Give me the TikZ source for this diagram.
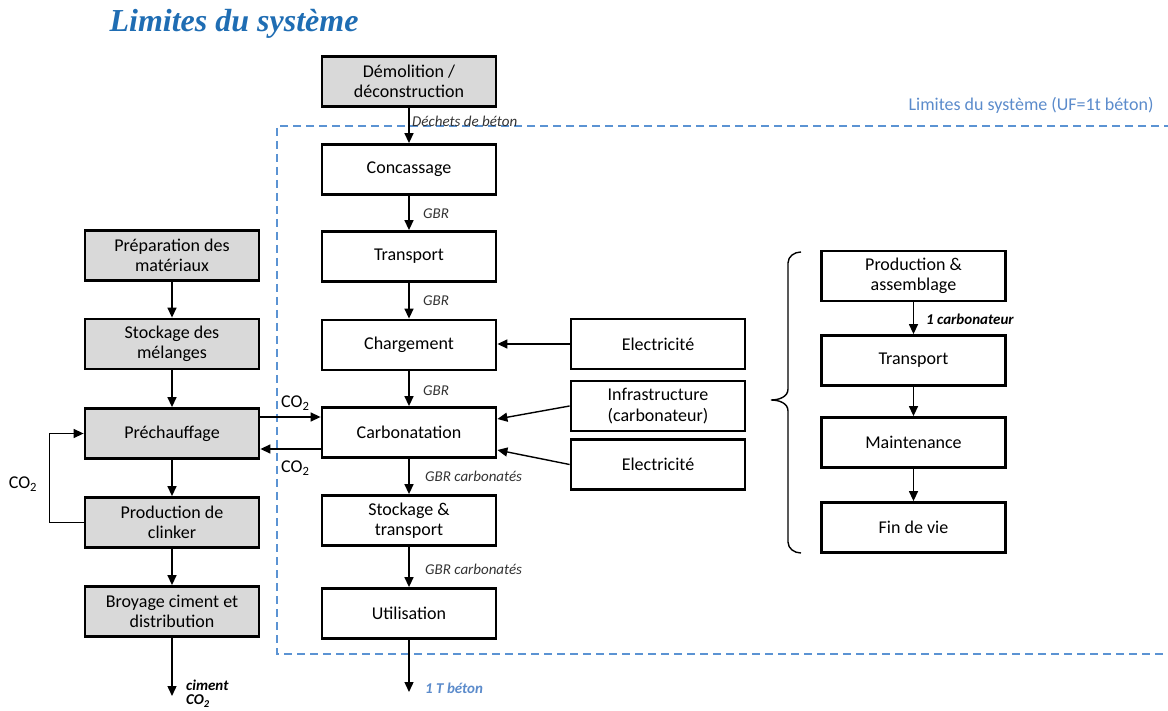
\documentclass[tikz,border=0pt]{standalone}
\usepackage{fontspec}
\setmainfont{Carlito}
\newfontfamily\titlefont{Liberation Serif}
\usetikzlibrary{arrows.meta}
\definecolor{titleblue}{HTML}{1F6DB3}
\definecolor{limblue}{HTML}{5B8BCB}
\definecolor{dashblue}{HTML}{5B93D3}
\definecolor{boxgrey}{HTML}{D9D9D9}
\newcommand\boxfont{\fontsize{18}{20.5}\selectfont}
\newcommand\labfont{\fontsize{15}{17}\selectfont\itshape}
\newcommand\boldlabfont{\fontsize{15}{17}\selectfont\bfseries\itshape}

\begin{document}
\begin{tikzpicture}[x=1pt,y=-1pt,
  box/.style={draw, line width=2.8pt, minimum width=174pt, minimum height=50pt,
    align=center, font=\boxfont, inner sep=0pt},
  greybox/.style={box, fill=boxgrey},
  widebox/.style={box, minimum width=184pt},
  arr/.style={-{Triangle[length=10pt,width=9pt]}, line width=1.4pt},
  lab/.style={font=\labfont, text=black!80, anchor=west, inner sep=0pt},
  boldlab/.style={font=\boldlabfont, anchor=west, inner sep=0pt},
  co/.style={font=\boxfont, inner sep=0pt}]

\useasboundingbox (0,0) rectangle (1168,711);

% title
\node[font=\titlefont\fontsize{32}{36}\selectfont\bfseries\itshape, text=titleblue]
  (title) at (234,24) {Limites du système};

% system boundary
\draw[dashblue, line width=1.6pt, dash pattern=on 8pt off 5pt]
  (1172,126) -- (277,126) -- (277,654) -- (1172,654);
\node[font=\fontsize{18}{20}\selectfont, text=limblue, anchor=east] (limits) at (1157,105)
  {Limites du système (UF=1t béton)};

% central chain
\node[greybox] (dem)   at (409,81.5)  {Démolition /\\déconstruction};
\node[box]     (conc)  at (409,169.5) {Concassage};
\node[box]     (trans) at (409,256.5) {Transport};
\node[box]     (charg) at (409,345)   {Chargement};
\node[box]     (carb)  at (409,432.5) {Carbonatation};
\node[box]     (stock) at (409,520.5) {Stockage \&\\transport};
\node[box]     (util)  at (409,613.5) {Utilisation};
\coordinate (utilout) at (409,692);

\draw[arr] (dem) -- (conc);
\draw[arr] (conc) -- (trans);
\draw[arr] (trans) -- (charg);
\draw[arr] (charg) -- (carb);
\draw[arr] (carb) -- (stock);
\draw[arr] (stock) -- (util);
\draw[arr] (util) -- (utilout);

\node[lab] (l1) at (412,121) {Déchets de béton};
\node[lab] (l2) at (423,214) {GBR};
\node[lab] (l3) at (423,301) {GBR};
\node[lab] (l4) at (423,391) {GBR};
\node[lab] (l5) at (425,476) {GBR carbonatés};
\node[lab] (l6) at (425,569) {GBR carbonatés};
\node[boldlab, text=limblue] (l7) at (425,688) {1 T béton};

% cement chain
\node[greybox] (prep)  at (172,255.5) {Préparation des\\matériaux};
\node[greybox] (stm)   at (172,344)   {Stockage des\\mélanges};
\node[greybox] (prech) at (172,433.5) {Préchauffage};
\node[greybox] (clink) at (172,522.5) {Production de\\clinker};
\node[greybox] (broy)  at (172,611.5) {Broyage ciment et\\distribution};
\coordinate (broyout) at (172,696);

\draw[arr] (prep) -- (stm);
\draw[arr] (stm) -- (prech);
\draw[arr] (prech) -- (clink);
\draw[arr] (clink) -- (broy);
\draw[arr] (broy) -- (broyout);
\draw[arr] (clink.west) -- ++(-34,0) |- (prech.west);
\node[co] (co2loop) at (23,484) {CO\textsubscript{2}};

\node[boldlab] (ciment) at (186,685) {ciment};
\node[boldlab] (cimco2) at (186,701) {CO\textsubscript{2}};

% CO2 exchanges between preheating and carbonation
\coordinate (yup) at (0,417);
\coordinate (ydn) at (0,449);
\draw[arr] (prech.east |- yup) -- (carb.west |- yup);
\draw[arr] (carb.west |- ydn) -- (prech.east |- ydn);
\node[co, anchor=west] (co2a) at (281,403) {CO\textsubscript{2}};
\node[co, anchor=west] (co2b) at (281,468) {CO\textsubscript{2}};

% inputs
\node[box] (elec1) at (658,344)   {Electricité};
\node[box] (infra) at (658,406)   {Infrastructure\\(carbonateur)};
\node[box] (elec2) at (658,464.5) {Electricité};
\coordinate (yinf) at (0,419);
\coordinate (yel2) at (0,450);
\draw[arr] (elec1.west) -- (charg.east |- elec1.west);
\draw[arr] (infra.west) -- (carb.east |- yinf);
\draw[arr] (elec2.west) -- (carb.east |- yel2);

% carbonator life cycle
\node[widebox] (prod)   at (913.5,276)   {Production \&\\assemblage};
\node[widebox] (rtrans) at (913.5,360.5) {Transport};
\node[widebox] (maint)  at (913.5,442.5) {Maintenance};
\node[widebox] (fin)    at (913.5,527.5) {Fin de vie};
\draw[arr] (prod) -- (rtrans);
\draw[arr] (rtrans) -- (maint);
\draw[arr] (maint) -- (fin);
\node[boldlab] (carbo1) at (926,319) {1 carbonateur};

% brace
\draw[line width=1.4pt] (801,252) to[out=180,in=90] (788,263) -- (788,389)
  to[out=-90,in=0] (771,400) to[out=0,in=90] (788,411) -- (788,542)
  to[out=-90,in=180] (801,553);

\end{tikzpicture}
\end{document}
